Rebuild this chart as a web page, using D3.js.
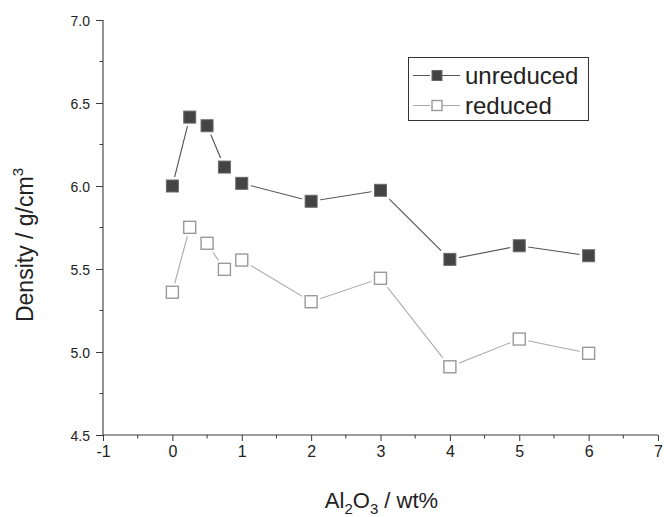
<!DOCTYPE html>
<html>
<head>
<meta charset="utf-8">
<script src="https://cdn.jsdelivr.net/npm/d3@7"></script>
<style>
  html, body { margin: 0; padding: 0; background: #fff; }
  svg { display: block; font-family: "Liberation Sans", Arial, sans-serif; }
</style>
</head>
<body>
<svg id="chart" width="664" height="517"></svg>
<script>
// Al2O3 content (wt%)
const alumina = [0, 0.25, 0.5, 0.75, 1, 2, 3, 4, 5, 6];
// Density (g/cm3) of the unreduced and reduced samples
const unreduced = [6.00, 6.415, 6.363, 6.114, 6.016, 5.908, 5.974, 5.558, 5.640, 5.580];
const reduced   = [5.360, 5.751, 5.655, 5.498, 5.554, 5.303, 5.444, 4.911, 5.078, 4.992];
const seriesNames = ["unreduced", "reduced"];
const xTicks = [-1, 0, 1, 2, 3, 4, 5, 6, 7];
const yTicks = [4.5, 5.0, 5.5, 6.0, 6.5, 7.0];

const svg = d3.select("#chart");
const margin = { top: 20, right: 6, bottom: 82, left: 103 };
const W = 664, H = 517;

const x = d3.scaleLinear().domain([-1, 7]).range([margin.left, W - margin.right]);
const y = d3.scaleLinear().domain([4.5, 7.0]).range([H - margin.bottom, margin.top]);

const axisColor = "#3a3a3a";
const textColor = "#222";

// minor ticks halfway between the labelled ones
const xMinor = d3.range(-0.5, 7, 1);
const yMinor = d3.range(4.75, 7, 0.5);

const gx = svg.append("g").attr("transform", `translate(0,${y(4.5)})`);
gx.call(d3.axisBottom(x).tickValues(xTicks).tickFormat(d => String(d)).tickSize(6).tickPadding(5));
gx.append("g").selectAll("line").data(xMinor).join("line")
  .attr("x1", d => x(d)).attr("x2", d => x(d)).attr("y1", 0).attr("y2", 3.5)
  .attr("stroke", axisColor);

const gy = svg.append("g").attr("transform", `translate(${x(-1)},0)`);
gy.call(d3.axisLeft(y).tickValues(yTicks).tickFormat(d3.format(".1f")).tickSize(7).tickPadding(6));
gy.append("g").selectAll("line").data(yMinor).join("line")
  .attr("y1", d => y(d)).attr("y2", d => y(d)).attr("x1", 0).attr("x2", -3.5)
  .attr("stroke", axisColor);

[gx, gy].forEach(g => {
  g.select(".domain").attr("stroke", axisColor).attr("stroke-width", 1.1);
  g.selectAll(".tick line").attr("stroke", axisColor);
  g.selectAll(".tick text").attr("fill", textColor).attr("font-family", "Liberation Sans, Arial, sans-serif");
});
gx.selectAll(".tick text").attr("font-size", 16);
gy.selectAll(".tick text").attr("font-size", 14).attr("dy", "0.36em");
// plain axis lines without the outer end ticks
gx.select(".domain").attr("d", `M${x(-1)},0H${x(7)}`);
gy.select(".domain").attr("d", `M0,${y(4.5)}V${y(7)}`);

// series
const styles = [
  { values: unreduced, line: "#555", fill: "#444", stroke: "#6a6a6a", sw: 1 },
  { values: reduced,   line: "#aaa", fill: "#fff", stroke: "#999",   sw: 1.4 }
];
const line = d3.line().x(d => x(d[0])).y(d => y(d[1]));
const S = 12;

styles.forEach(s => {
  const pts = alumina.map((a, i) => [a, s.values[i]]);
  svg.append("path").datum(pts).attr("d", line)
    .attr("fill", "none").attr("stroke", s.line).attr("stroke-width", 1.1);
  // white gap around each marker
  svg.append("g").selectAll("rect").data(pts).join("rect")
    .attr("x", d => x(d[0]) - S / 2 - 3).attr("y", d => y(d[1]) - S / 2 - 3)
    .attr("width", S + 6).attr("height", S + 6).attr("fill", "#fff");
});
styles.forEach(s => {
  const pts = alumina.map((a, i) => [a, s.values[i]]);
  svg.append("g").selectAll("rect").data(pts).join("rect")
    .attr("x", d => x(d[0]) - S / 2).attr("y", d => y(d[1]) - S / 2)
    .attr("width", S).attr("height", S)
    .attr("fill", s.fill).attr("stroke", s.stroke).attr("stroke-width", s.sw);
});

// legend
const lg = svg.append("g");
lg.append("rect").attr("x", 408.5).attr("y", 57.5).attr("width", 180).attr("height", 63)
  .attr("fill", "#fff").attr("stroke", "#333").attr("stroke-width", 1);
seriesNames.forEach((name, i) => {
  const s = styles[i];
  const cy = 75.5 + i * 30;
  lg.append("line").attr("x1", 413).attr("x2", 460).attr("y1", cy).attr("y2", cy)
    .attr("stroke", s.line).attr("stroke-width", 1.1);
  lg.append("rect").attr("x", 437 - 7).attr("y", cy - 6).attr("width", 12).attr("height", 11)
    .attr("fill", "#fff");
  lg.append("rect").attr("x", 437 - 5).attr("y", cy - 5).attr("width", 10).attr("height", 10)
    .attr("fill", s.fill).attr("stroke", s.stroke).attr("stroke-width", s.sw);
  lg.append("text").attr("x", 465).attr("y", cy + 8)
    .attr("font-size", 24).attr("fill", textColor).text(name);
});

// axis titles
const xt = svg.append("text").attr("x", (x(-1) + x(7)) / 2 + 1).attr("y", 508)
  .attr("text-anchor", "middle").attr("font-size", 22).attr("fill", textColor);
xt.append("tspan").text("Al");
xt.append("tspan").attr("font-size", 15).attr("dy", 6).text("2");
xt.append("tspan").attr("dy", -6).text("O");
xt.append("tspan").attr("font-size", 15).attr("dy", 6).text("3");
xt.append("tspan").attr("dy", -6).text(" / wt%");

const yt = svg.append("text")
  .attr("transform", `translate(33,${245}) rotate(-90)`)
  .attr("text-anchor", "middle").attr("font-size", 23).attr("fill", textColor);
yt.append("tspan").text("Density / g/cm");
yt.append("tspan").attr("font-size", 15).attr("dy", -10).text("3");
</script>
</body>
</html>
